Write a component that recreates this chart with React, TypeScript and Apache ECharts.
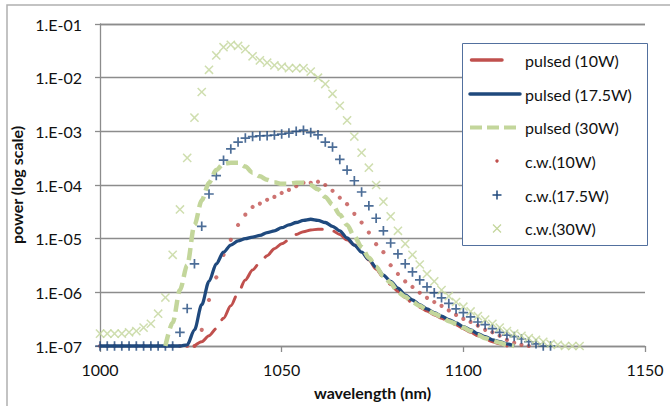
import React, { useEffect, useRef } from "react";
import * as echarts from "echarts";

// wavelength sampling (nm)
const wavelengths = [
  1000, 1002, 1004, 1006, 1008, 1010, 1012, 1014, 1016, 1018,
  1020, 1022, 1024, 1026, 1028, 1030, 1032, 1034, 1036, 1038,
  1040, 1042, 1044, 1046, 1048, 1050, 1052, 1054, 1056, 1058,
  1060, 1062, 1064, 1066, 1068, 1070, 1072, 1074, 1076, 1078,
  1080, 1082, 1084, 1086, 1088, 1090, 1092, 1094, 1096, 1098,
  1100, 1102, 1104, 1106, 1108, 1110, 1112, 1114, 1116, 1118,
  1120, 1122, 1124, 1126, 1128, 1130, 1132, 1134,
];

const pulsed10W = [
  null, null, null, null, null, null, null, null, null, null,
  null, null, null, 1.0e-7, 1.2e-7, 1.55e-7, 2.1e-7, 3.3e-7, 5.6e-7, 9.8e-7,
  1.7e-6, 2.6e-6, 3.6e-6, 4.8e-6, 6.5e-6, 8.0e-6, 9.5e-6, 1.2e-5, 1.35e-5, 1.45e-5,
  1.5e-5, 1.5e-5, 1.4e-5, 1.2e-5, 9.5e-6, 7.6e-6, 5.8e-6, 4.0e-6, 2.7e-6, 1.9e-6,
  1.4e-6, 1.05e-6, 8.0e-7, 6.3e-7, 5.3e-7, 4.5e-7, 3.8e-7, 3.3e-7, 2.8e-7, 2.5e-7,
  2.1e-7, 1.8e-7, 1.55e-7, 1.35e-7, 1.2e-7, 1.1e-7, 1.0e-7, null, null, null,
  null, null, null, null, null, null, null, null,
];

const pulsed17W = [
  1e-7, 1e-7, 1e-7, 1e-7, 1e-7, 1e-7, 1e-7, 1e-7, 1e-7, 1e-7,
  1e-7, 1e-7, 1.05e-7, 2.0e-7, 5.9e-7, 1.6e-6, 3.4e-6, 5.6e-6, 7.6e-6, 9.1e-6,
  1.0e-5, 1.07e-5, 1.15e-5, 1.3e-5, 1.4e-5, 1.6e-5, 1.8e-5, 2.0e-5, 2.2e-5, 2.3e-5,
  2.2e-5, 2.0e-5, 1.7e-5, 1.4e-5, 1.03e-5, 7.6e-6, 5.6e-6, 4.1e-6, 2.9e-6, 2.1e-6,
  1.6e-6, 1.2e-6, 9.0e-7, 7.2e-7, 5.9e-7, 4.9e-7, 4.2e-7, 3.6e-7, 3.1e-7, 2.7e-7,
  2.3e-7, 2.0e-7, 1.7e-7, 1.5e-7, 1.3e-7, 1.2e-7, 1.1e-7, 1.0e-7, null, null,
  null, null, null, null, null, null, null, null,
];

const pulsed30W = [
  null, null, null, null, null, null, null, null, null, 1.0e-7,
  2.7e-7, 1.1e-6, 3.2e-6, 1.8e-5, 5.2e-5, 1.1e-4, 1.9e-4, 2.5e-4, 2.6e-4, 2.6e-4,
  2.2e-4, 1.7e-4, 1.45e-4, 1.25e-4, 1.12e-4, 1.05e-4, 1.05e-4, 1.1e-4, 1.1e-4, 1.0e-4,
  8.3e-5, 6.0e-5, 4.3e-5, 2.8e-5, 1.8e-5, 1.1e-5, 7.0e-6, 4.4e-6, 3.0e-6, 2.0e-6,
  1.5e-6, 1.0e-6, 8.3e-7, 6.6e-7, 5.6e-7, 4.7e-7, 4.0e-7, 3.5e-7, 2.9e-7, 2.6e-7,
  2.2e-7, 1.9e-7, 1.6e-7, 1.4e-7, 1.25e-7, 1.15e-7, 1.05e-7, 1.0e-7, null, null,
  null, null, null, null, null, null, null, null,
];

const cw10W = [
  1e-7, 1e-7, 1e-7, 1e-7, 1e-7, 1e-7, 1e-7, 1e-7, 1e-7, 1e-7,
  1e-7, 1e-7, 1e-7, 1e-7, 2.0e-7, 7.2e-7, 1.9e-6, 5.0e-6, 9.5e-6, 1.8e-5,
  2.8e-5, 3.9e-5, 4.5e-5, 5.3e-5, 6.0e-5, 7.1e-5, 8.1e-5, 9.5e-5, 1.1e-4, 1.1e-4,
  1.15e-4, 1.0e-4, 7.8e-5, 5.8e-5, 4.4e-5, 2.9e-5, 2.0e-5, 1.3e-5, 7.9e-6, 5.6e-6,
  3.2e-6, 2.2e-6, 1.6e-6, 1.26e-6, 9.8e-7, 7.9e-7, 6.6e-7, 5.6e-7, 4.6e-7, 3.8e-7,
  3.2e-7, 2.8e-7, 2.4e-7, 2.0e-7, 1.8e-7, 1.55e-7, 1.3e-7, 1.15e-7, 1.05e-7, 1.0e-7,
  null, null, null, null, null, null, null, null,
];

const cw17W = [
  1e-7, 1e-7, 1e-7, 1e-7, 1e-7, 1e-7, 1e-7, 1e-7, 1e-7, 1e-7,
  1e-7, 1.8e-7, 5.0e-7, 3.4e-6, 1.7e-5, 6.8e-5, 1.5e-4, 2.9e-4, 4.7e-4, 6.3e-4,
  7.5e-4, 8.0e-4, 8.2e-4, 8.3e-4, 8.5e-4, 8.9e-4, 9.3e-4, 1.0e-3, 1.05e-3, 9.5e-4,
  8.6e-4, 6.3e-4, 5.1e-4, 3.0e-4, 1.9e-4, 1.2e-4, 7.4e-5, 4.1e-5, 2.4e-5, 1.4e-5,
  8.3e-6, 5.2e-6, 3.4e-6, 2.4e-6, 1.7e-6, 1.26e-6, 9.8e-7, 7.9e-7, 6.2e-7, 4.9e-7,
  4.2e-7, 3.5e-7, 2.8e-7, 2.5e-7, 2.1e-7, 1.8e-7, 1.6e-7, 1.5e-7, 1.35e-7, 1.2e-7,
  1.1e-7, 1.0e-7, 1.0e-7, null, null, null, null, null,
];

const cw30W = [
  1.7e-7, 1.7e-7, 1.7e-7, 1.7e-7, 1.8e-7, 1.9e-7, 2.2e-7, 2.6e-7, 4.0e-7, 8.0e-7,
  5.0e-6, 3.5e-5, 3.2e-4, 1.8e-3, 5.4e-3, 1.4e-2, 2.6e-2, 3.7e-2, 4.1e-2, 3.9e-2,
  3.4e-2, 2.5e-2, 2.1e-2, 1.9e-2, 1.7e-2, 1.6e-2, 1.5e-2, 1.5e-2, 1.5e-2, 1.3e-2,
  1.0e-2, 7.6e-3, 5.0e-3, 3.0e-3, 1.6e-3, 8.0e-4, 4.0e-4, 2.1e-4, 1.0e-4, 4.9e-5,
  2.6e-5, 1.4e-5, 8.0e-6, 5.0e-6, 3.3e-6, 2.2e-6, 1.6e-6, 1.1e-6, 8.5e-7, 6.6e-7,
  5.4e-7, 4.4e-7, 3.6e-7, 3.1e-7, 2.6e-7, 2.2e-7, 1.9e-7, 1.7e-7, 1.55e-7, 1.4e-7,
  1.3e-7, 1.2e-7, 1.1e-7, 1.05e-7, 1.0e-7, 1.0e-7, 1.0e-7, null,
];

const seriesNames = [
  "pulsed (10W)",
  "pulsed (17.5W)",
  "pulsed (30W)",
  "c.w.(10W)",
  "c.w.(17.5W)",
  "c.w.(30W)",
];

const RED = "#C0504D";
const BLUE = "#1F497D";
const GREEN = "#C3D69B";
const GREEN_X = "#C3D69B";
const FONT = "Lato";

const PLUS = "path://M4.1,0H5.9V4.1H10V5.9H5.9V10H4.1V5.9H0V4.1H4.1Z";
const CROSS = "path://M4.35,0H5.65V4.35H10V5.65H5.65V10H4.35V5.65H0V4.35H4.35Z";

function pairs(vals: (number | null)[]) {
  const out: [number, number][] = [];
  vals.forEach((v, i) => {
    if (v != null) out.push([wavelengths[i], v]);
  });
  return out;
}

function expLabel(v: number) {
  const e = Math.round(Math.log10(v));
  const s = String(Math.abs(e)).padStart(2, "0");
  return "1.E" + (e < 0 ? "-" : "+") + s;
}

export default function App() {
  const ref = useRef<HTMLDivElement>(null);

  useEffect(() => {
    if (!ref.current) return;
    const chart = echarts.init(ref.current, null, { renderer: "svg" });

    const legendRows = [60, 94, 127.5, 161, 195, 228.5];
    const legendGraphics: any[] = [
      {
        type: "rect",
        z: 100,
        shape: { x: 462.5, y: 43.5, width: 185, height: 202 },
        style: { fill: "#ffffff", stroke: "#52709E", lineWidth: 1 },
      },
      {
        type: "line",
        z: 101,
        shape: { x1: 471.5, y1: legendRows[0], x2: 502, y2: legendRows[0] },
        style: { stroke: RED, lineWidth: 3.5, lineCap: "round" },
      },
      {
        type: "line",
        z: 101,
        shape: { x1: 470, y1: legendRows[1], x2: 520, y2: legendRows[1] },
        style: { stroke: BLUE, lineWidth: 3.5, lineCap: "round" },
      },
      {
        type: "line",
        z: 101,
        shape: { x1: 470, y1: legendRows[2], x2: 516, y2: legendRows[2] },
        style: { stroke: GREEN, lineWidth: 4, lineDash: [12, 5] },
      },
      {
        type: "circle",
        z: 101,
        shape: { cx: 497, cy: legendRows[3], r: 1.7 },
        style: { fill: RED },
      },
      {
        type: "line",
        z: 101,
        shape: { x1: 492.5, y1: legendRows[4], x2: 501.5, y2: legendRows[4] },
        style: { stroke: BLUE, lineWidth: 1.5 },
      },
      {
        type: "line",
        z: 101,
        shape: { x1: 497, y1: legendRows[4] - 4.5, x2: 497, y2: legendRows[4] + 4.5 },
        style: { stroke: BLUE, lineWidth: 1.5 },
      },
      {
        type: "line",
        z: 101,
        shape: { x1: 493, y1: legendRows[5] - 4, x2: 501, y2: legendRows[5] + 4 },
        style: { stroke: GREEN_X, lineWidth: 1.3 },
      },
      {
        type: "line",
        z: 101,
        shape: { x1: 493, y1: legendRows[5] + 4, x2: 501, y2: legendRows[5] - 4 },
        style: { stroke: GREEN_X, lineWidth: 1.3 },
      },
      ...seriesNames.map((name, i) => ({
        type: "text",
        z: 101,
        x: 525,
        y: legendRows[i],
        style: {
          text: name,
          fill: "#111111",
          fontFamily: FONT,
          fontSize: 16,
          verticalAlign: "middle",
          align: "left",
        },
      })),
    ];

    chart.setOption({
      animation: false,
      backgroundColor: "#ffffff",
      grid: { left: 100, top: 24, width: 545, height: 322, containLabel: false },
      xAxis: {
        type: "value",
        min: 1000,
        max: 1150,
        interval: 50,
        axisLine: { show: true, onZero: false, lineStyle: { color: "#8C8C8C", width: 1.3 } },
        axisTick: { show: true, length: 6, lineStyle: { color: "#8C8C8C", width: 1.3 } },
        splitLine: { show: false },
        axisLabel: {
          color: "#111111",
          fontFamily: FONT,
          fontSize: 16,
          margin: 15,
          formatter: (v: number) => String(v),
        },
        name: "wavelength (nm)",
        nameLocation: "middle",
        nameGap: 38,
        nameTextStyle: { color: "#111111", fontFamily: FONT, fontSize: 16, fontWeight: "bold" },
      },
      yAxis: {
        type: "log",
        logBase: 10,
        min: 1e-7,
        max: 1e-1,
        splitNumber: 6,
        axisLine: { show: true, onZero: false, lineStyle: { color: "#8C8C8C", width: 1.3 } },
        axisTick: { show: true, length: 5, lineStyle: { color: "#8C8C8C", width: 1.3 } },
        minorTick: { show: false },
        splitLine: { show: true, lineStyle: { color: "#8C8C8C", width: 1.3 } },
        axisLabel: {
          color: "#111111",
          fontFamily: FONT,
          fontSize: 16,
          margin: 18,
          formatter: (v: number) => expLabel(v),
        },
        name: "power (log scale)",
        nameLocation: "middle",
        nameGap: 68,
        nameRotate: 90,
        nameTextStyle: { color: "#111111", fontFamily: FONT, fontSize: 16, fontWeight: "bold" },
      },
      series: [
        {
          name: seriesNames[0],
          type: "line",
          data: pairs(pulsed10W),
          showSymbol: false,
          symbol: "none",
          smooth: 0.3,
          smoothMonotone: "x",
          clip: false,
          lineStyle: { color: RED, width: 3, type: [27, 12], cap: "round" },
        },
        {
          name: seriesNames[1],
          type: "line",
          data: pairs(pulsed17W),
          showSymbol: false,
          symbol: "none",
          smooth: 0.3,
          smoothMonotone: "x",
          clip: false,
          lineStyle: { color: BLUE, width: 3.3 },
        },
        {
          name: seriesNames[2],
          type: "line",
          data: pairs(pulsed30W),
          showSymbol: false,
          symbol: "none",
          smooth: 0.3,
          smoothMonotone: "x",
          clip: false,
          lineStyle: { color: GREEN, width: 4.5, type: [12, 6] },
        },
        {
          name: seriesNames[3],
          type: "scatter",
          data: pairs(cw10W),
          symbol: "circle",
          symbolSize: 4.2,
          clip: false,
          itemStyle: { color: RED },
        },
        {
          name: seriesNames[4],
          type: "scatter",
          data: pairs(cw17W),
          symbol: PLUS,
          symbolSize: 9.5,
          clip: false,
          itemStyle: { color: BLUE },
        },
        {
          name: seriesNames[5],
          type: "scatter",
          data: pairs(cw30W),
          symbol: CROSS,
          symbolSize: 11.5,
          symbolRotate: 45,
          clip: false,
          itemStyle: { color: GREEN_X },
        },
      ],
      graphic: [
        {
          type: "rect",
          z: -10,
          silent: true,
          shape: { x: 7, y: 5, width: 700, height: 420 },
          style: { fill: "none", stroke: "#B0B0B0", lineWidth: 1.5 },
        },
        ...legendGraphics,
      ],
    });

    return () => {
      chart.dispose();
    };
  }, []);

  return (
    <div
      ref={ref}
      style={{ position: "absolute", left: 0, top: 0, width: 670, height: 406, background: "#fff" }}
    />
  );
}
